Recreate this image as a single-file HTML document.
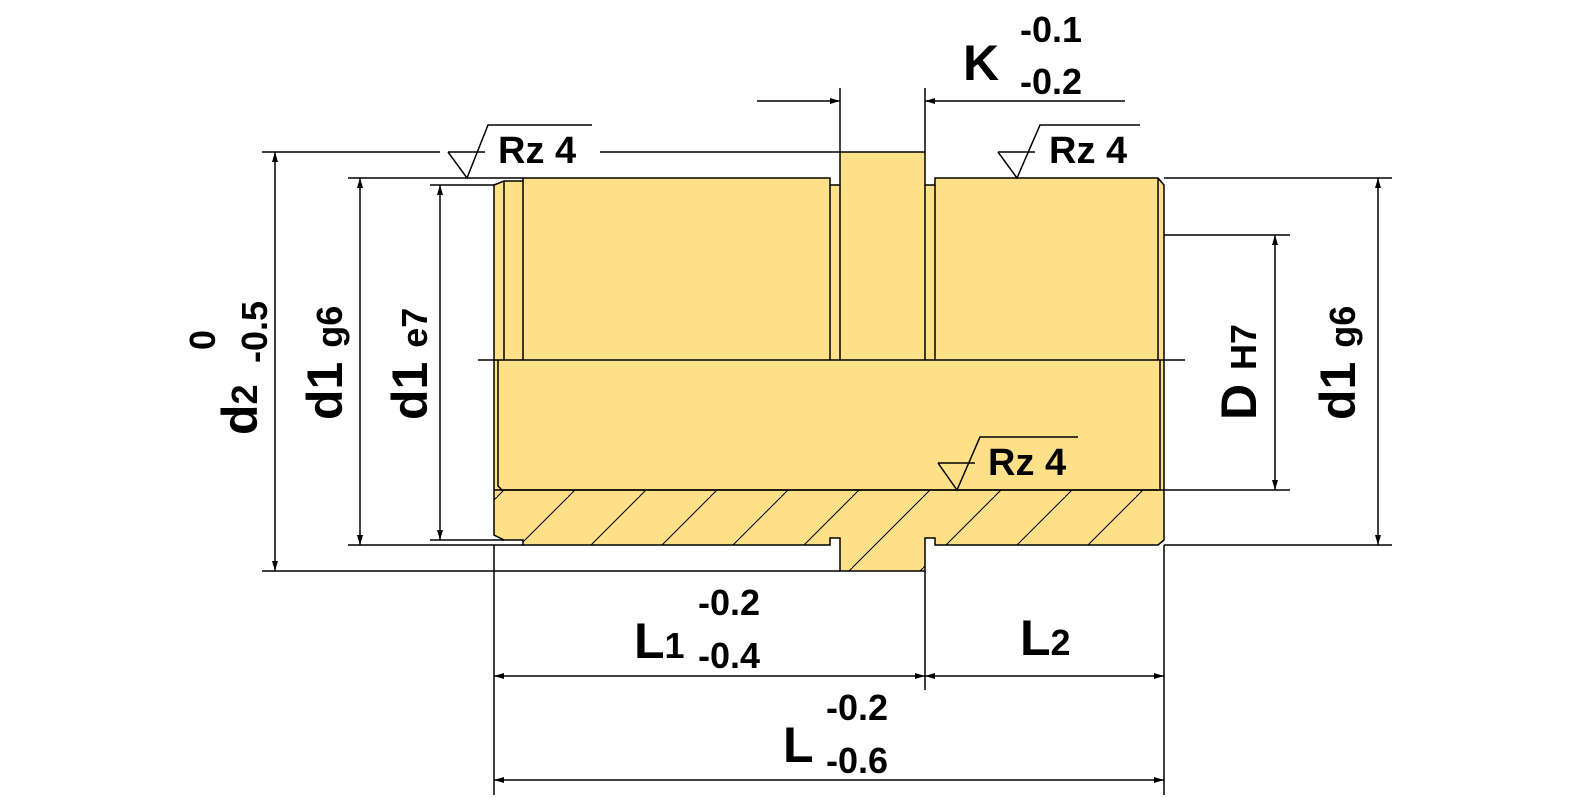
<!DOCTYPE html>
<html><head><style>
html,body{margin:0;padding:0;background:#fff;}
svg{display:block;}
text{font-family:"Liberation Sans",Arial,sans-serif;fill:#000;font-weight:bold;}
</style></head><body>
<svg width="1581" height="806" viewBox="0 0 1581 806" xmlns="http://www.w3.org/2000/svg">
<defs>
<marker id="a" viewBox="0 0 10 10" refX="10" refY="5" markerWidth="34" markerHeight="10" markerUnits="userSpaceOnUse" orient="auto"><path d="M0,2 L10,5 L0,8 Z" fill="#000"/></marker>
<pattern id="h" patternUnits="userSpaceOnUse" width="71" height="71">
<path d="M-10,81 L81,-10 M-81,81 L81,-81" stroke="#000" stroke-width="1"/>
</pattern>
<clipPath id="hc"><path d="M494,490 H1164 V540 L1158,545 H935 V538 H925 V571 H840 V538 H830 V545 H523 V540 H504 L494,530 Z"/></clipPath>
</defs>
<g stroke="#000" stroke-width="1.5" fill="none">
<path d="M494,185 L504,181 H523 V178 H830 V185 H840 V152 H925 V185 H935 V178 H1158 L1164,185 V540 L1158,545 H935 V538 H925 V571 H840 V538 H830 V545 H523 V540 H504 L494,535 Z" fill="#fde088"/>
<rect x="494" y="490" width="670" height="90" fill="url(#h)" clip-path="url(#hc)" stroke="none"/>
<line x1="504" y1="181" x2="504" y2="360"/>
<line x1="523" y1="181" x2="523" y2="360"/>
<line x1="830" y1="185" x2="830" y2="360"/>
<line x1="840" y1="185" x2="840" y2="360"/>
<line x1="925" y1="185" x2="925" y2="360"/>
<line x1="935" y1="185" x2="935" y2="360"/>
<line x1="1158" y1="178" x2="1158" y2="360"/>
<line x1="478" y1="360" x2="1185" y2="360"/>
<path d="M498,360 V486 L502,490 H1160 V360"/>
<line x1="494" y1="490" x2="1164" y2="490"/>
<line x1="262" y1="152" x2="440" y2="152"/>
<line x1="600" y1="152" x2="840" y2="152"/>
<line x1="262" y1="571" x2="840" y2="571"/>
<line x1="348" y1="178" x2="523" y2="178"/>
<line x1="348" y1="545" x2="523" y2="545"/>
<line x1="430" y1="185" x2="494" y2="185"/>
<line x1="430" y1="540" x2="504" y2="540"/>
<line x1="1164" y1="178" x2="1392" y2="178"/>
<line x1="1164" y1="545" x2="1392" y2="545"/>
<line x1="1164" y1="235" x2="1290" y2="235"/>
<line x1="1164" y1="490" x2="1290" y2="490"/>
<line x1="840" y1="88" x2="840" y2="152"/>
<line x1="925" y1="88" x2="925" y2="152"/>
<line x1="494" y1="545" x2="494" y2="795"/>
<line x1="925" y1="571" x2="925" y2="690"/>
<line x1="1164" y1="545" x2="1164" y2="795"/>
<line x1="275" y1="300" x2="275" y2="152" marker-end="url(#a)"/>
<line x1="275" y1="300" x2="275" y2="571" marker-end="url(#a)"/>
<line x1="360" y1="300" x2="360" y2="178" marker-end="url(#a)"/>
<line x1="360" y1="300" x2="360" y2="545" marker-end="url(#a)"/>
<line x1="440" y1="300" x2="440" y2="185" marker-end="url(#a)"/>
<line x1="440" y1="300" x2="440" y2="540" marker-end="url(#a)"/>
<line x1="1275" y1="360" x2="1275" y2="235" marker-end="url(#a)"/>
<line x1="1275" y1="360" x2="1275" y2="490" marker-end="url(#a)"/>
<line x1="1378" y1="360" x2="1378" y2="178" marker-end="url(#a)"/>
<line x1="1378" y1="360" x2="1378" y2="545" marker-end="url(#a)"/>
<line x1="757" y1="101" x2="840" y2="101" marker-end="url(#a)"/>
<line x1="1125" y1="101" x2="925" y2="101" marker-end="url(#a)"/>
<line x1="700" y1="676" x2="494" y2="676" marker-end="url(#a)"/>
<line x1="700" y1="676" x2="925" y2="676" marker-end="url(#a)"/>
<line x1="1040" y1="676" x2="925" y2="676" marker-end="url(#a)"/>
<line x1="1040" y1="676" x2="1164" y2="676" marker-end="url(#a)"/>
<line x1="800" y1="780" x2="494" y2="780" marker-end="url(#a)"/>
<line x1="800" y1="780" x2="1164" y2="780" marker-end="url(#a)"/>
<path d="M448,152 L467,178 L488,125 H592"/>
<line x1="448" y1="152" x2="485" y2="152"/>
<path d="M998,152 L1017,178 L1040,125 H1140"/>
<line x1="998" y1="152" x2="1035" y2="152"/>
<path d="M938,463 L957,490 L980,437 H1078"/>
<line x1="938" y1="463" x2="975" y2="463"/>
</g>
<g font-size="38">
<text x="498" y="163">Rz 4</text>
<text x="1049" y="163">Rz 4</text>
<text x="988" y="475">Rz 4</text>
</g>
<text x="963" y="80" font-size="50">K</text>
<text x="1020" y="42" font-size="36">-0.1</text>
<text x="1020" y="94" font-size="36">-0.2</text>
<text x="634" y="658" font-size="50">L<tspan font-size="36">1</tspan></text>
<text x="698" y="615" font-size="36">-0.2</text>
<text x="698" y="668" font-size="36">-0.4</text>
<text x="1020" y="655" font-size="50">L<tspan font-size="36">2</tspan></text>
<text x="783" y="762" font-size="50">L</text>
<text x="826" y="720" font-size="36">-0.2</text>
<text x="826" y="773" font-size="36">-0.6</text>
<g transform="translate(257,435) rotate(-90)"><text x="0" y="0" font-size="50">d<tspan font-size="36">2</tspan></text><text x="72" y="10" font-size="36">-0.5</text><text x="85" y="-42" font-size="36">0</text></g>
<g transform="translate(342,420) rotate(-90)"><text x="0" y="0" font-size="50">d1 <tspan font-size="36">g6</tspan></text></g>
<g transform="translate(427,420) rotate(-90)"><text x="0" y="0" font-size="50">d1 <tspan font-size="36">e7</tspan></text></g>
<g transform="translate(1256,420) rotate(-90)"><text x="0" y="0" font-size="50">D <tspan font-size="36">H7</tspan></text></g>
<g transform="translate(1355,420) rotate(-90)"><text x="0" y="0" font-size="50">d1 <tspan font-size="36">g6</tspan></text></g>
</svg>
</body></html>
